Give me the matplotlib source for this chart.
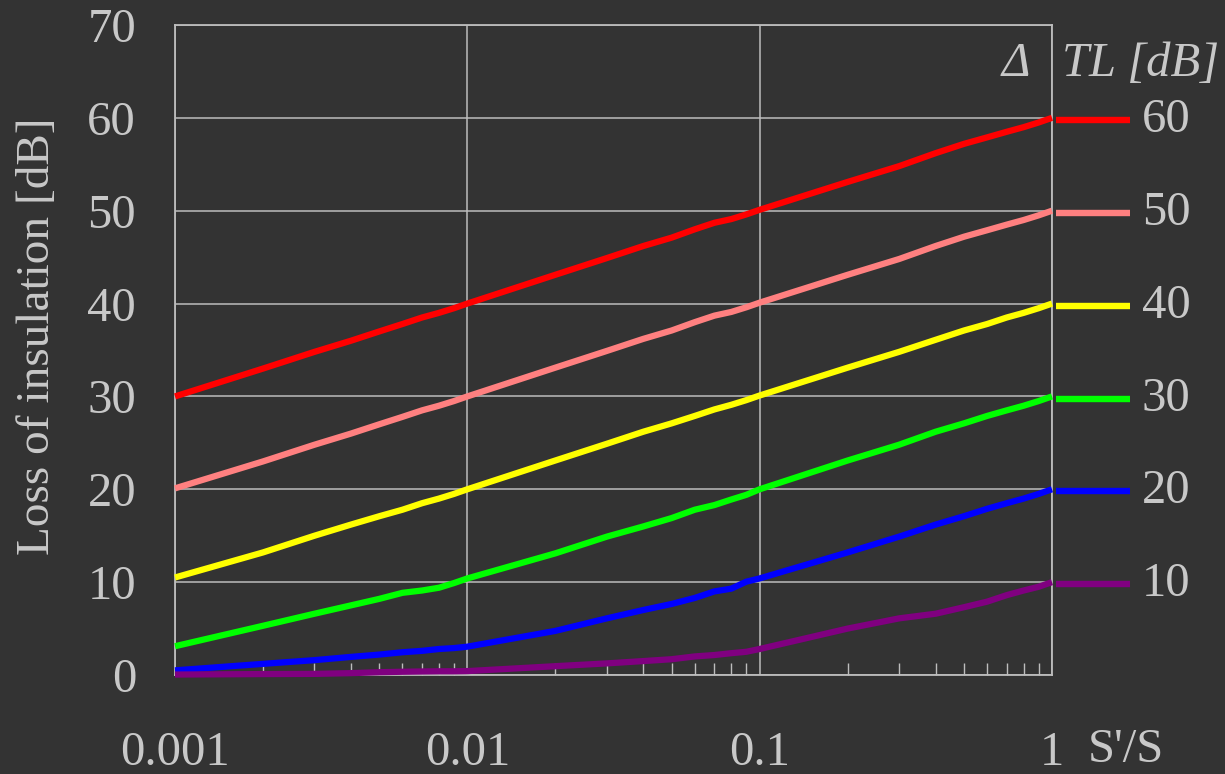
import matplotlib
matplotlib.use("Agg")
import matplotlib.pyplot as plt
from matplotlib.ticker import FixedLocator, NullFormatter, NullLocator
import matplotlib.transforms as mtransforms

# Open-area ratio S'/S (log scale), sampled at 1..9 of each decade
ratio = [0.001, 0.002, 0.003, 0.004, 0.005, 0.006, 0.007, 0.008, 0.009,
         0.01, 0.02, 0.03, 0.04, 0.05, 0.06, 0.07, 0.08, 0.09,
         0.1, 0.2, 0.3, 0.4, 0.5, 0.6, 0.7, 0.8, 0.9,
         1.0]

# Loss of insulation [dB] for each wall transmission loss
loss_tl60 = [30.0, 33.0, 34.8, 36.0, 37.0, 37.8, 38.5, 39.0, 39.5,
             40.0, 43.1, 44.9, 46.2, 47.1, 48.0, 48.7, 49.1, 49.6,
             50.1, 53.1, 54.8, 56.2, 57.2, 57.9, 58.5, 59.0, 59.5,
             60.0]
loss_tl50 = [20.1, 23.0, 24.8, 26.0, 27.0, 27.8, 28.5, 29.0, 29.5,
             30.0, 33.1, 34.9, 36.2, 37.1, 38.0, 38.7, 39.1, 39.6,
             40.1, 43.1, 44.8, 46.2, 47.2, 47.9, 48.5, 49.0, 49.5,
             50.0]
loss_tl40 = [10.5, 13.2, 15.0, 16.2, 17.1, 17.8, 18.5, 19.0, 19.5,
             20.0, 23.1, 24.9, 26.2, 27.1, 27.9, 28.6, 29.1, 29.6,
             30.1, 33.1, 34.8, 36.1, 37.1, 37.8, 38.5, 39.0, 39.5,
             40.0]
loss_tl30 = [3.1, 5.3, 6.6, 7.5, 8.2, 8.85, 9.1, 9.4, 9.9,
             10.4, 13.1, 14.9, 16.0, 16.9, 17.8, 18.3, 18.9, 19.4,
             20.0, 23.1, 24.8, 26.2, 27.1, 27.9, 28.5, 29.0, 29.5,
             30.0]
loss_tl20 = [0.5, 1.2, 1.6, 1.95, 2.2, 2.45, 2.6, 2.8, 2.9,
             3.05, 4.75, 6.1, 7.0, 7.65, 8.3, 9.0, 9.3, 10.05,
             10.4, 13.2, 14.9, 16.2, 17.1, 17.9, 18.5, 19.0, 19.5,
             20.0]
loss_tl10 = [0.05, 0.1, 0.12, 0.2, 0.3, 0.35, 0.38, 0.4, 0.4,
             0.42, 0.95, 1.25, 1.5, 1.7, 2.0, 2.15, 2.35, 2.5,
             2.8, 5.0, 6.1, 6.6, 7.3, 7.9, 8.6, 9.1, 9.5,
             10.0]

tl_values = [60, 50, 40, 30, 20, 10]
tl_labels = ["60", "50", "40", "30", "20", "10"]
series = [loss_tl60, loss_tl50, loss_tl40, loss_tl30, loss_tl20, loss_tl10]
colors = ["#ff0000", "#ff8080", "#ffff00", "#00ff00", "#0000ff", "#800080"]

x_ticks = [0.001, 0.01, 0.1, 1]
x_tick_labels = ["0.001", "0.01", "0.1", "1"]
y_ticks = [0, 10, 20, 30, 40, 50, 60, 70]

bg = "#333333"
fg = "#c8c8c8"
grid_c = "#bdbdbd"

plt.rcParams["font.family"] = ["Liberation Serif", "DejaVu Serif"]

fig = plt.figure(figsize=(12.25, 7.74), dpi=100, facecolor=bg)
ax = fig.add_axes([175 / 1225, 1 - 675 / 774, (1052 - 175) / 1225, (675 - 25) / 774])
ax.set_facecolor(bg)

ax.set_xscale("log")
ax.set_xlim(0.001, 1)
ax.set_ylim(0, 70)

for ys, c in zip(series, colors):
    ax.plot(ratio, ys, color=c, lw=4.5, solid_capstyle="butt", clip_on=False, zorder=3)

# grid and frame
ax.set_xticks(x_ticks)
ax.set_xticklabels(x_tick_labels)
ax.set_yticks(y_ticks)
ax.xaxis.set_minor_locator(FixedLocator(
    [m * d for d in (0.001, 0.01, 0.1) for m in range(2, 10)]))
ax.xaxis.set_minor_formatter(NullFormatter())
ax.yaxis.set_minor_locator(NullLocator())
ax.grid(True, which="major", color=grid_c, lw=1.1, zorder=1)
ax.set_axisbelow(True)
for s in ax.spines.values():
    s.set_color(grid_c)
    s.set_linewidth(1.3)

ax.tick_params(axis="both", which="major", length=0, labelsize=35, labelcolor=fg)
ax.tick_params(axis="x", which="major", pad=40)
ax.tick_params(axis="y", which="major", pad=28)
ax.tick_params(axis="x", which="minor", direction="in", length=8.5, width=1.0,
               color=grid_c, top=False)

# axis titles
fig.text(38 / 1225, 1 - 336 / 774, "Loss of insulation [dB]", rotation=90,
         ha="center", va="center", fontsize=34, color=fg)
fig.text(1088 / 1225, 1 - 762 / 774, "S'/S", ha="left", va="baseline",
         fontsize=35, color=fg)

# key on the right: short swatch + TL value
fig.text(1030 / 1225, 1 - 76 / 774, "Δ", ha="right", va="baseline",
         fontsize=35, color=fg, style="italic")
fig.text(1219 / 1225, 1 - 76 / 774, "TL [dB]", ha="right", va="baseline",
         fontsize=35, color=fg, style="italic")

trans = mtransforms.offset_copy(ax.get_yaxis_transform(), fig=fig, x=0, y=-2.2, units="dots")
for tl, lab, c in zip(tl_values, tl_labels, colors):
    ax.plot([1.004, 1.089], [tl, tl], color=c, lw=4.6, solid_capstyle="butt",
            transform=trans, clip_on=False, zorder=3)
    ax.text(1.130, tl, lab, transform=trans, ha="center", va="center",
            fontsize=35, color=fg, clip_on=False)

fig.savefig("out.png", dpi=100, facecolor=bg)
